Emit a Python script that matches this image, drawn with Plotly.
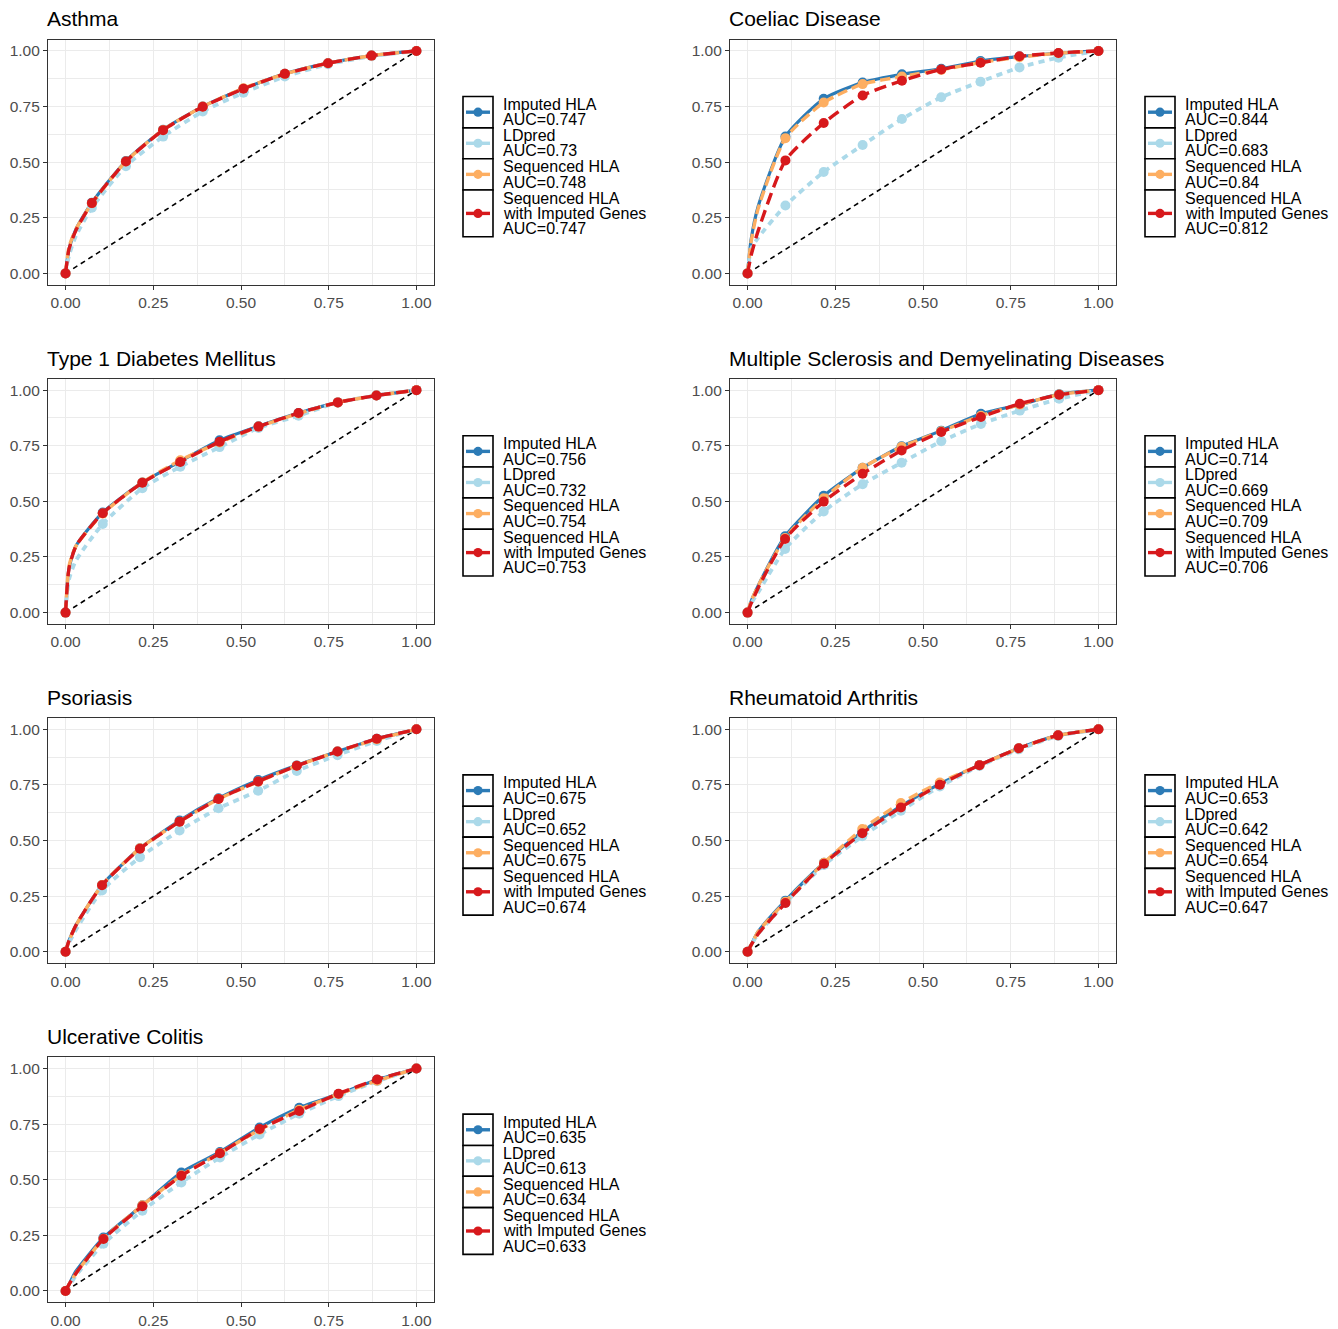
import plotly.graph_objects as go

# page body has an 8px margin, so the figure is offset by that amount
PAGE_W, PAGE_H = 1338, 1329
OFF = 8
W, H = PAGE_W - OFF, PAGE_H - OFF
FONT = "Liberation Sans, Arial, Helvetica, sans-serif"

# ---------------- data ----------------
TITLES = ["Asthma", "Coeliac Disease", "Type 1 Diabetes Mellitus",
          "Multiple Sclerosis and Demyelinating Diseases", "Psoriasis",
          "Rheumatoid Arthritis", "Ulcerative Colitis"]

SERIES = ["Imputed HLA", "LDpred", "Sequenced HLA", "Sequenced HLA with Imputed Genes"]
LABEL_LINES = [["Imputed HLA"], ["LDpred"], ["Sequenced HLA"], ["Sequenced HLA", "with Imputed Genes"]]

AUC_ASTHMA = ["0.747", "0.73", "0.748", "0.747"]
AUC_COELIAC = ["0.844", "0.683", "0.84", "0.812"]
AUC_T1D = ["0.756", "0.732", "0.754", "0.753"]
AUC_MS = ["0.714", "0.669", "0.709", "0.706"]
AUC_PSO = ["0.675", "0.652", "0.675", "0.674"]
AUC_RA = ["0.653", "0.642", "0.654", "0.647"]
AUC_UC = ["0.635", "0.613", "0.634", "0.633"]

# false positive rates (shared per disease); indices 1 and 2 are unmarked curve points
FPR_ASTHMA = [0, 0.01, 0.03, 0.075, 0.172, 0.278, 0.391, 0.507, 0.625, 0.748, 0.872, 1.0]
FPR_COELIAC = [0, 0.01, 0.03, 0.108, 0.217, 0.328, 0.44, 0.552, 0.664, 0.775, 0.886, 1.0]
FPR_T1D = [0, 0.01, 0.03, 0.106, 0.219, 0.327, 0.439, 0.55, 0.664, 0.776, 0.886, 1.0]
FPR_MS = [0, 0.01, 0.03, 0.107, 0.217, 0.328, 0.439, 0.552, 0.665, 0.776, 0.888, 1.0]
FPR_PSO = [0, 0.01, 0.03, 0.104, 0.212, 0.325, 0.436, 0.549, 0.659, 0.775, 0.887, 1.0]
FPR_RA = [0, 0.01, 0.03, 0.108, 0.218, 0.327, 0.437, 0.548, 0.661, 0.773, 0.885, 1.0]
FPR_UC = [0, 0.01, 0.03, 0.108, 0.219, 0.33, 0.44, 0.553, 0.666, 0.778, 0.888, 1.0]

# true positive rates per series
ASTHMA_IMP = [0, 0.11, 0.20, 0.318, 0.505, 0.646, 0.75, 0.83, 0.897, 0.945, 0.979, 1]
ASTHMA_LDP = [0, 0.08, 0.17, 0.295, 0.482, 0.615, 0.728, 0.812, 0.885, 0.94, 0.976, 1]
ASTHMA_SEQ = [0, 0.12, 0.20, 0.315, 0.503, 0.645, 0.75, 0.832, 0.897, 0.945, 0.979, 1]
ASTHMA_SIG = [0, 0.11, 0.195, 0.316, 0.503, 0.644, 0.749, 0.83, 0.897, 0.945, 0.979, 1]

COELIAC_IMP = [0, 0.15, 0.30, 0.615, 0.785, 0.858, 0.895, 0.92, 0.955, 0.975, 0.99, 1]
COELIAC_LDP = [0, 0.11, 0.16, 0.305, 0.456, 0.577, 0.694, 0.792, 0.862, 0.926, 0.97, 1]
COELIAC_SEQ = [0, 0.14, 0.29, 0.608, 0.768, 0.851, 0.885, 0.915, 0.948, 0.972, 0.99, 1]
COELIAC_SIG = [0, 0.08, 0.19, 0.508, 0.676, 0.80, 0.866, 0.917, 0.947, 0.976, 0.991, 1]

T1D_IMP = [0, 0.20, 0.30, 0.45, 0.585, 0.68, 0.775, 0.838, 0.897, 0.945, 0.976, 1]
T1D_LDP = [0, 0.15, 0.235, 0.398, 0.559, 0.656, 0.744, 0.83, 0.885, 0.945, 0.976, 1]
T1D_SEQ = [0, 0.21, 0.30, 0.445, 0.585, 0.685, 0.765, 0.836, 0.895, 0.945, 0.976, 1]
T1D_SIG = [0, 0.20, 0.30, 0.447, 0.584, 0.677, 0.768, 0.836, 0.897, 0.945, 0.976, 1]

MS_IMP = [0, 0.05, 0.12, 0.343, 0.525, 0.651, 0.748, 0.818, 0.894, 0.934, 0.982, 1]
MS_LDP = [0, 0.04, 0.09, 0.286, 0.455, 0.577, 0.674, 0.77, 0.848, 0.908, 0.961, 1]
MS_SEQ = [0, 0.05, 0.12, 0.335, 0.514, 0.651, 0.745, 0.815, 0.885, 0.935, 0.98, 1]
MS_SIG = [0, 0.04, 0.11, 0.331, 0.499, 0.624, 0.729, 0.812, 0.879, 0.939, 0.979, 1]

PSO_IMP = [0, 0.05, 0.12, 0.30, 0.465, 0.59, 0.69, 0.772, 0.838, 0.90, 0.958, 1]
PSO_LDP = [0, 0.04, 0.10, 0.276, 0.425, 0.545, 0.645, 0.724, 0.813, 0.884, 0.948, 1]
PSO_SEQ = [0, 0.05, 0.12, 0.30, 0.465, 0.585, 0.687, 0.765, 0.836, 0.90, 0.955, 1]
PSO_SIG = [0, 0.05, 0.12, 0.299, 0.463, 0.585, 0.687, 0.766, 0.836, 0.90, 0.958, 1]

RA_IMP = [0, 0.03, 0.09, 0.23, 0.40, 0.54, 0.655, 0.755, 0.839, 0.915, 0.973, 1]
RA_LDP = [0, 0.03, 0.08, 0.22, 0.39, 0.519, 0.634, 0.743, 0.835, 0.91, 0.97, 1]
RA_SEQ = [0, 0.03, 0.09, 0.225, 0.40, 0.552, 0.669, 0.761, 0.839, 0.915, 0.973, 1]
RA_SIG = [0, 0.03, 0.08, 0.219, 0.396, 0.533, 0.649, 0.751, 0.839, 0.915, 0.973, 1]

UC_IMP = [0, 0.03, 0.09, 0.24, 0.385, 0.533, 0.625, 0.735, 0.824, 0.885, 0.95, 1]
UC_LDP = [0, 0.02, 0.07, 0.212, 0.361, 0.488, 0.60, 0.704, 0.797, 0.876, 0.943, 1]
UC_SEQ = [0, 0.03, 0.08, 0.235, 0.385, 0.52, 0.62, 0.725, 0.815, 0.885, 0.945, 1]
UC_SIG = [0, 0.03, 0.08, 0.234, 0.381, 0.518, 0.619, 0.728, 0.809, 0.887, 0.951, 1]

DIAG = [0, 1]
TICKS = [0, 0.25, 0.5, 0.75, 1.0]
TICK_TEXT = ["0.00", "0.25", "0.50", "0.75", "1.00"]

PANELS = [
    (FPR_ASTHMA, [ASTHMA_IMP, ASTHMA_LDP, ASTHMA_SEQ, ASTHMA_SIG], AUC_ASTHMA),
    (FPR_COELIAC, [COELIAC_IMP, COELIAC_LDP, COELIAC_SEQ, COELIAC_SIG], AUC_COELIAC),
    (FPR_T1D, [T1D_IMP, T1D_LDP, T1D_SEQ, T1D_SIG], AUC_T1D),
    (FPR_MS, [MS_IMP, MS_LDP, MS_SEQ, MS_SIG], AUC_MS),
    (FPR_PSO, [PSO_IMP, PSO_LDP, PSO_SEQ, PSO_SIG], AUC_PSO),
    (FPR_RA, [RA_IMP, RA_LDP, RA_SEQ, RA_SIG], AUC_RA),
    (FPR_UC, [UC_IMP, UC_LDP, UC_SEQ, UC_SIG], AUC_UC),
]

# ---------------- styles ----------------
COLORS = ["#2C7BB6", "#ABD9E9", "#FDAE61", "#D7191C"]
DASHES = ["solid", "6px,5px", "10px,5px", "12px,6px"]
WIDTHS = [3.2, 3.8, 3.4, 3.4]
MARKER_SIZE = 10

COL_LEFT = [48, 730]          # page pixel positions
ROW_TOP = [40, 381, 722, 1063]
PW, PH = 386, 246
ITEM_H = [31.5, 31, 31.5, 47]
LINE_GAP = 15.4


def fx(p):
    return (p - OFF) / W


def fy(p):
    return 1 - (p - OFF) / H


fig = go.Figure()
layout = dict(
    width=W, height=H, autosize=False,
    margin=dict(l=0, r=0, t=0, b=0, pad=0),
    paper_bgcolor="white", plot_bgcolor="white",
    showlegend=False,
    font=dict(family=FONT, color="black"),
)
annotations = []
shapes = []

axis_common = dict(
    range=[-0.05, 1.05], tickvals=TICKS, ticktext=TICK_TEXT,
    showline=True, mirror=True, linecolor="#333333", linewidth=1.2,
    ticks="outside", ticklen=4, tickwidth=1.1, tickcolor="#333333",
    tickfont=dict(size=15.5, color="#4D4D4D", family=FONT),
    showgrid=True, gridcolor="#EBEBEB", gridwidth=1.2, zeroline=False,
    minor=dict(tick0=0.125, dtick=0.25, showgrid=True, gridcolor="#EBEBEB", gridwidth=0.6),
    fixedrange=True,
)

for i, (fpr, tprs, aucs) in enumerate(PANELS):
    n = i + 1
    r, c = divmod(i, 2)
    left = COL_LEFT[c]
    top = ROW_TOP[r]
    xa = "x" if n == 1 else f"x{n}"
    ya = "y" if n == 1 else f"y{n}"
    layout["xaxis" if n == 1 else f"xaxis{n}"] = dict(
        axis_common, domain=[fx(left), fx(left + PW)], anchor=ya)
    layout["yaxis" if n == 1 else f"yaxis{n}"] = dict(
        axis_common, domain=[fy(top + PH), fy(top)], anchor=xa)

    # diagonal reference
    fig.add_trace(go.Scatter(x=DIAG, y=DIAG, mode="lines", xaxis=xa, yaxis=ya,
                             line=dict(color="black", width=1.6, dash="5px,4px"),
                             hoverinfo="skip"))
    marked = [k for k in range(len(fpr)) if k not in (1, 2)]
    for s, tpr in enumerate(tprs):
        fig.add_trace(go.Scatter(
            x=fpr, y=tpr, mode="lines", xaxis=xa, yaxis=ya, name=SERIES[s],
            line=dict(color=COLORS[s], width=WIDTHS[s], dash=DASHES[s],
                      shape="spline", smoothing=0.6)))
        fig.add_trace(go.Scatter(
            x=[fpr[k] for k in marked], y=[tpr[k] for k in marked],
            mode="markers", xaxis=xa, yaxis=ya, name=SERIES[s],
            marker=dict(color=COLORS[s], size=MARKER_SIZE)))

    # title
    annotations.append(dict(
        text=TITLES[i], xref="paper", yref="paper", x=fx(left - 2), y=fy(top - 21),
        xanchor="left", yanchor="middle", showarrow=False, borderpad=0,
        font=dict(size=21, color="black", family=FONT)))

    # legend (per panel)
    kx0 = left + PW + 29
    kx1 = kx0 + 30
    tx = kx1 + 8
    ly = top + 57
    for s in range(4):
        h = ITEM_H[s]
        shapes.append(dict(type="rect", xref="paper", yref="paper",
                           x0=fx(kx0), x1=fx(kx1), y0=fy(ly), y1=fy(ly + h),
                           line=dict(color="black", width=1.6), fillcolor="white"))
        cy = ly + h / 2
        shapes.append(dict(type="line", xref="paper", yref="paper",
                           x0=fx(kx0 + 3), x1=fx(kx1 - 3), y0=fy(cy), y1=fy(cy),
                           line=dict(color=COLORS[s], width=3.4)))
        rr = 4.6
        shapes.append(dict(type="circle", xref="paper", yref="paper",
                           x0=fx((kx0 + kx1) / 2 - rr), x1=fx((kx0 + kx1) / 2 + rr),
                           y0=fy(cy - rr), y1=fy(cy + rr),
                           line=dict(width=0), fillcolor=COLORS[s]))
        lines = LABEL_LINES[s] + ["AUC=" + aucs[s]]
        nl = len(lines)
        for j, t in enumerate(lines):
            ycen = cy + (j - (nl - 1) / 2) * LINE_GAP
            annotations.append(dict(
                text=t, xref="paper", yref="paper", x=fx(tx), y=fy(ycen),
                xanchor="left", yanchor="middle", showarrow=False,
                font=dict(size=16, color="black", family=FONT)))
        ly += h

layout["annotations"] = annotations
layout["shapes"] = shapes
fig.update_layout(**layout)
fig.write_html("out.html")
